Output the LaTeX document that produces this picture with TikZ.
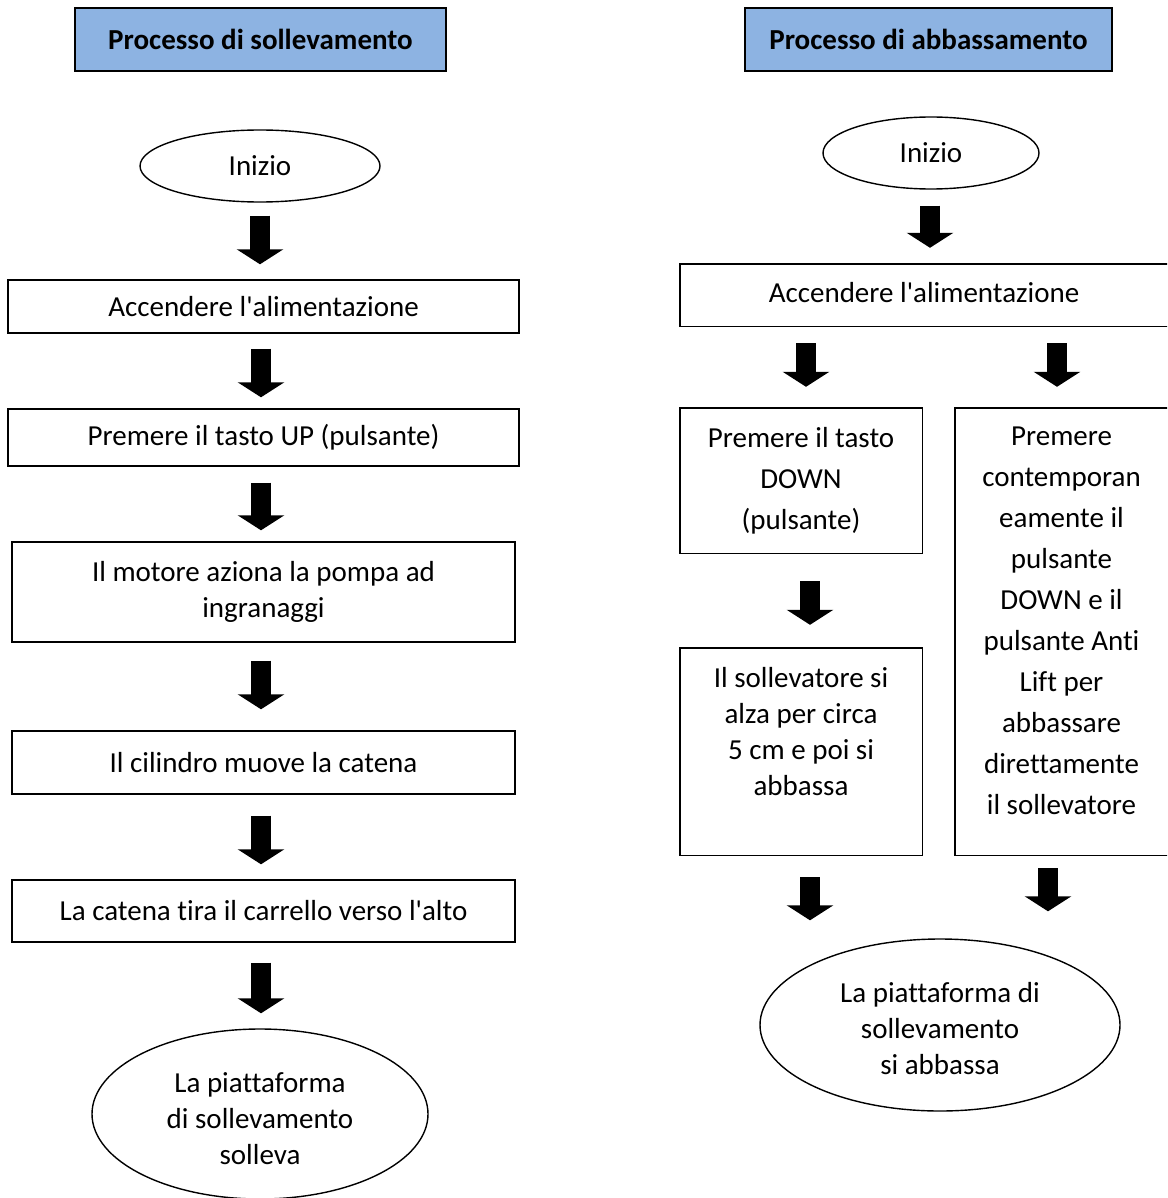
\documentclass[tikz,border=0pt]{standalone}
\usepackage{fontspec}
\setmainfont{Carlito}[Ligatures=NoCommon]
\usetikzlibrary{arrows.meta,shapes.geometric}
\definecolor{hdrblue}{HTML}{8DB3E2}
\newcommand{\apo}{\textquotesingle}
\begin{document}
\begin{tikzpicture}[x=1pt,y=-1pt,
  boxn/.style={draw, line width=1.4pt, inner sep=0pt, align=center, font=\fontsize{29}{36}\selectfont},
  frame/.style={draw=none, inner sep=0pt},
  frameline/.style={line width=1.4pt},
  txt/.style={inner sep=0pt, align=center},
  ell/.style={draw, ellipse, line width=1.4pt, inner sep=0pt, align=center, font=\fontsize{29}{36}\selectfont},
  hdr/.style={draw, fill=hdrblue, line width=1.8pt, inner sep=0pt, font=\fontsize{29}{36}\selectfont\bfseries},
  bigarrow/.style={line width=20pt, -{Triangle[width=46pt,length=15pt]}},
]
\clip (0,0) rectangle (1167,1198);
\fill[white] (0,0) rectangle (1167,1198);

% headers
\node[hdr, minimum width=371pt, minimum height=63pt] (h1) at (260.5,39.5) {Processo di sollevamento};
\node[hdr, minimum width=367pt, minimum height=63pt] (h2) at (928.5,39.5) {Processo di abbassamento};

% left column
\node[ell, minimum width=240pt, minimum height=72pt] (in1) at (260,166) {Inizio};
\node[boxn, minimum width=511pt, minimum height=53pt] (b1) at (263.5,306.5) {Accendere l\apo alimentazione};
\node[boxn, minimum width=511pt, minimum height=57pt] (b2) at (263.5,437.5) {Premere il tasto UP (pulsante)};
\node[boxn, minimum width=503pt, minimum height=100pt] (b3) at (263.5,592) {Il motore aziona la pompa ad\\ingranaggi};
\node[boxn, minimum width=503pt, minimum height=63pt] (b4) at (263.5,762.5) {Il cilindro muove la catena};
\node[boxn, minimum width=503pt, minimum height=62pt] (b5) at (263.5,911) {La catena tira il carrello verso l\apo alto};
\node[ell, minimum width=336pt, minimum height=170pt] (e1) at (260,1114) {};
\node[txt, font=\fontsize{29}{36}\selectfont] (e1t) at ([yshift=-5pt]e1.center) {La piattaforma\\di sollevamento\\solleva};

\draw[bigarrow, shorten <=13pt, shorten >=15pt] (in1.south) -- (in1.south |- b1.north);
\draw[bigarrow, shorten <=15pt, shorten >=11pt] ([xshift=-2.5pt]b1.south) -- ([xshift=-2.5pt]b2.north);
\draw[bigarrow, shorten <=16pt, shorten >=11pt] ([xshift=-2.5pt]b2.south) -- ([xshift=-2.5pt]b3.north);
\draw[bigarrow, shorten <=18pt, shorten >=21pt] ([xshift=-2.5pt]b3.south) -- ([xshift=-2.5pt]b4.north);
\draw[bigarrow, shorten <=21pt, shorten >=15pt] ([xshift=-2.5pt]b4.south) -- ([xshift=-2.5pt]b5.north);
\draw[bigarrow, shorten <=20pt, shorten >=15pt] ([xshift=-2.5pt]b5.south) -- ([xshift=-2.5pt]b5.south |- e1.north);

% right column
\node[ell, minimum width=216pt, minimum height=72pt] (in2) at (931,153) {Inizio};

\node[frame, minimum width=488pt, minimum height=62pt] (r1) at (924,295) {};
\draw[frameline] (r1.south west) rectangle ([xshift=12pt]r1.north east);
\node[txt, font=\fontsize{29}{36}\selectfont] (r1t) at ([yshift=2pt]r1.center) {Accendere l\apo alimentazione};

\node[frame, minimum width=242pt, minimum height=145pt] (r2) at (801,480.5) {};
\draw[frameline] (r2.south west) rectangle (r2.north east);
\node[txt, anchor=north, font=\fontsize{29}{41}\selectfont] (r2t) at ([yshift=-19pt]r2.north) {Premere il tasto\\DOWN\\(pulsante)};

\node[frame, minimum width=213pt, minimum height=447pt] (r3) at (1061.5,631.5) {};
\draw[frameline] (r3.south west) rectangle ([xshift=12pt]r3.north east);
\node[txt, anchor=north, font=\fontsize{29}{41}\selectfont] (r3t) at ([yshift=-19pt]r3.north) {Premere\\contemporan\\eamente il\\pulsante\\DOWN e il\\pulsante Anti\\Lift per\\abbassare\\direttamente\\il sollevatore};

\node[frame, minimum width=242pt, minimum height=207pt] (r4) at (801,751.5) {};
\draw[frameline] (r4.south west) rectangle (r4.north east);
\node[txt, anchor=north, font=\fontsize{29}{36}\selectfont] (r4t) at ([yshift=-19pt]r4.north) {Il sollevatore si\\alza per circa\\5 cm e poi si\\abbassa};

\node[ell, minimum width=360pt, minimum height=172pt] (e2) at (940,1025) {};
\node[txt, font=\fontsize{29}{36}\selectfont] (e2t) at ([yshift=-4pt]e2.center) {La piattaforma di\\sollevamento\\si abbassa};

\draw[bigarrow, shorten <=16pt, shorten >=16pt] ([xshift=-1pt]in2.south) -- ([xshift=-1pt]in2.south |- r1.north);
\draw[bigarrow, shorten <=17pt, shorten >=21pt] ([xshift=5pt]r1.south -| r2.north) -- ([xshift=5pt]r2.north);
\draw[bigarrow, shorten <=17pt, shorten >=21pt] ([xshift=-4.5pt]r1.south -| r3.north) -- ([xshift=-4.5pt]r3.north);
\draw[bigarrow, shorten <=28pt, shorten >=23pt] ([xshift=9pt]r2.south) -- ([xshift=9pt]r4.north);
\draw[bigarrow, shorten <=22pt, shorten >=18pt] ([xshift=9pt]r4.south) -- ([xshift=9pt]r4.south |- e2.north);
\draw[bigarrow, shorten <=13pt, shorten >=27pt] ([xshift=-13.5pt]r3.south) -- ([xshift=-13.5pt]r3.south |- e2.north);
\end{tikzpicture}
\end{document}
